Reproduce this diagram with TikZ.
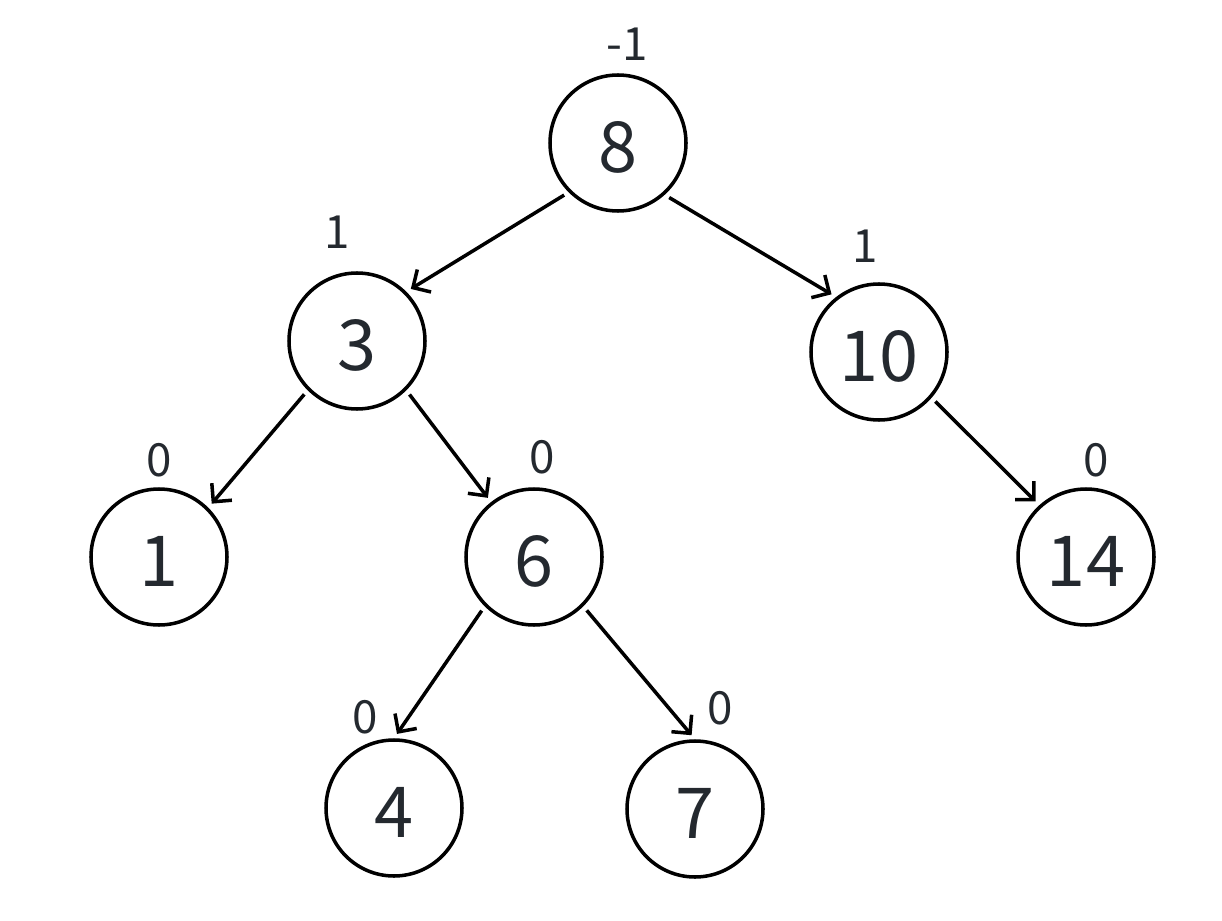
\documentclass[tikz,border=0pt]{standalone}
\usepackage{fontspec}
\setmainfont{Noto Sans CJK SC}
\usetikzlibrary{positioning, arrows.meta}
\definecolor{digit}{HTML}{24292F}

\begin{document}
\begin{tikzpicture}[
    >={Straight Barb[length=7.5pt, width=15pt]},
    line width=2pt,
    font=\fontsize{40}{44}\selectfont,
    on grid,
    tree/.style={
        circle,
        draw,
        minimum size=2.72cm,
        inner sep=0pt,
        text height=34pt,
        text depth=0pt,
        text=digit
    },
    bf/.style={font=\fontsize{26}{30}\selectfont, text=digit},
    link/.style={->, shorten <=3pt, shorten >=3pt}
]
\useasboundingbox (0,0) rectangle (24.44,-18.42);

\node[tree, label={[bf, xshift=0.18cm, label distance=0.1cm]above:-1}] (n8) at (12.36,-2.86) {8};

\node[tree, below left=3.96cm and 5.22cm of n8,
      label={[bf, xshift=-0.4cm, label distance=0.3cm]above:1}] (n3) {3};
\node[tree, below right=4.18cm and 5.22cm of n8,
      label={[bf, xshift=-0.28cm, label distance=0.24cm]above:1}] (n10) {10};

\node[tree, below left=4.32cm and 3.96cm of n3,
      label={[bf, label distance=0.06cm]above:0}] (n1) {1};
\node[tree, below right=4.32cm and 3.54cm of n3,
      label={[bf, xshift=0.16cm, label distance=0.12cm]above:0}] (n6) {6};
\node[tree, below right=4.1cm and 4.14cm of n10,
      label={[bf, xshift=0.2cm, label distance=0.06cm]above:0}] (n14) {14};

\node[tree, below left=5.02cm and 2.8cm of n6,
      label={[bf, xshift=-0.58cm, label distance=-0.06cm]above:0}] (n4) {4};
\node[tree, below right=5.04cm and 3.22cm of n6,
      label={[bf, xshift=0.5cm, label distance=0.14cm]above:0}] (n7) {7};

\draw[link] (n8.south west) -- (n3.north east);
\draw[link] (n8.-48) -- (n10.128);
\draw[link] (n3.south west) -- (n1.north east);
\draw[link] (n3.south east) -- (n6.128);
\draw[link] (n10.-41) -- (n14.132);
\draw[link] (n6.south west) -- (n4.north);
\draw[link] (n6.south east) -- (n7.north);

\end{tikzpicture}
\end{document}
